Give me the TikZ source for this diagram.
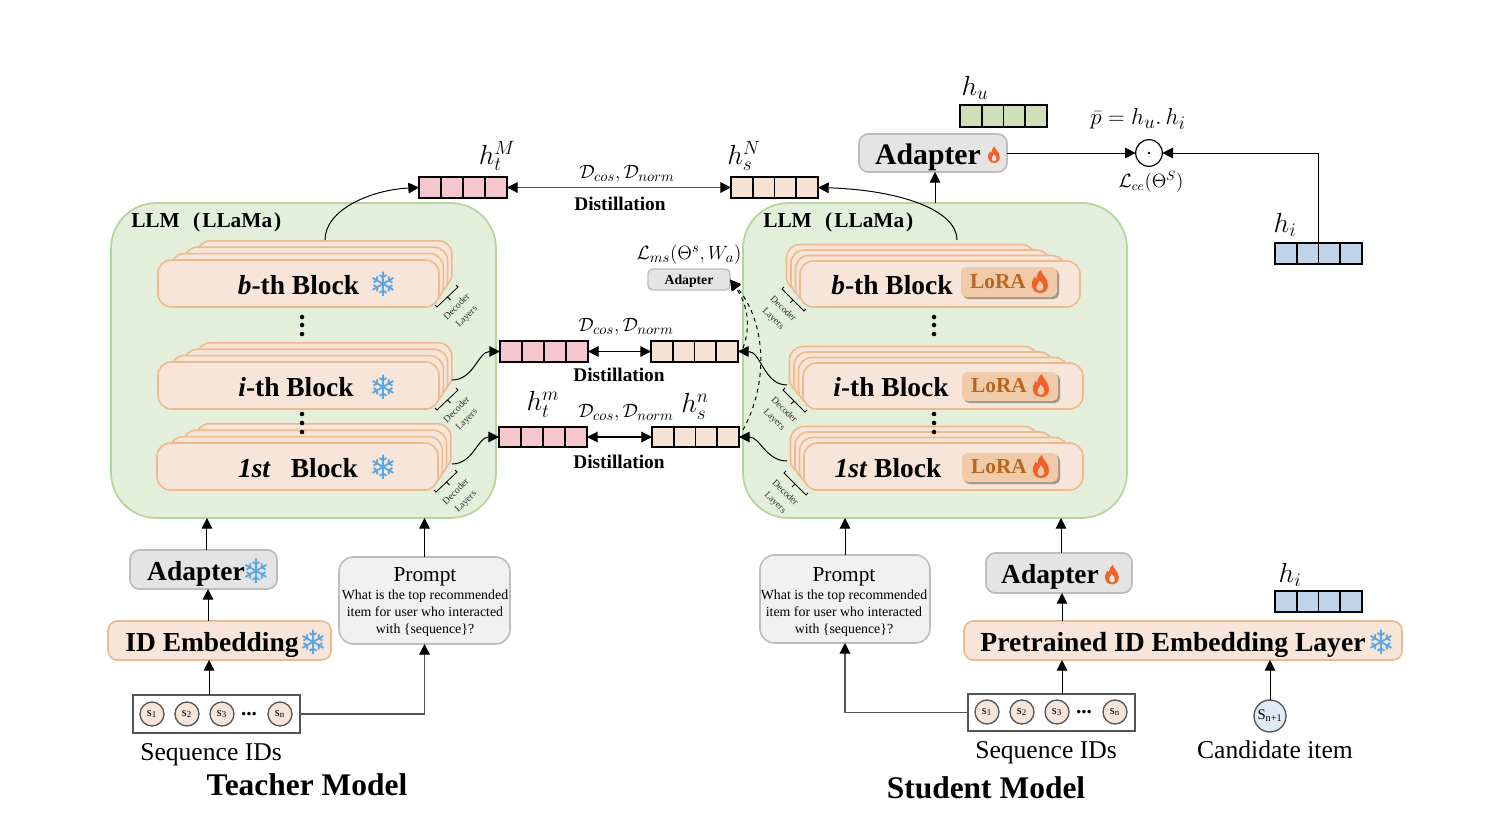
\documentclass[tikz,border=0pt]{standalone}
\usepackage{amsmath,amssymb}
\usepackage{fontspec}
\setmainfont{Liberation Serif}
\newfontfamily\flakefont{DejaVu Sans}
\usetikzlibrary{arrows.meta,calc,shadows}

\definecolor{llmgreen}{HTML}{E3EEDB}
\definecolor{llmedge}{HTML}{B4D69C}
\definecolor{peachfill}{HTML}{F6E5D8}
\definecolor{peachedge}{HTML}{EFB98E}
\definecolor{lorafill}{HTML}{EFCBAA}
\definecolor{loratext}{HTML}{B8651F}
\definecolor{flameorange}{HTML}{F0622A}
\definecolor{snowblue}{HTML}{5BA5E2}
\definecolor{grayfill}{HTML}{E4E4E4}
\definecolor{grayedge}{HTML}{BDBDBD}
\definecolor{promptfill}{HTML}{F1F1F1}
\definecolor{barpink}{HTML}{F5C6CB}
\definecolor{barpeach}{HTML}{F6E3D3}
\definecolor{bargreen}{HTML}{CDE0B8}
\definecolor{barblue}{HTML}{C0D4EA}
\definecolor{darkline}{HTML}{555555}

\tikzset{
  anybox/.style={inner sep=0pt,outer sep=0pt},
  llmbox/.style={anybox,draw=llmedge,fill=llmgreen,line width=1.3pt,rounded corners=34pt},
  blockbox/.style={anybox,draw=peachedge,fill=peachfill,line width=1.2pt,rounded corners=10pt},
  lorabox/.style={anybox,fill=lorafill,rounded corners=4pt,
    drop shadow={shadow xshift=1.5pt,shadow yshift=-1.5pt,opacity=.35,fill=black}},
  peachbox/.style={anybox,draw=peachedge,fill=peachfill,line width=1.2pt,rounded corners=7pt},
  graybox/.style={anybox,draw=grayedge,fill=grayfill,line width=1.3pt,rounded corners=7pt},
  promptbox/.style={anybox,draw=grayedge,fill=promptfill,line width=1.2pt,rounded corners=11pt},
  seqbox/.style={anybox,draw=darkline,fill=white,line width=1.3pt},
  barbox/.style={anybox,draw=black,line width=1.4pt},
  barline/.style={black,line width=1.2pt},
  seqitem/.style={circle,anybox,draw=darkline,fill=peachfill,line width=1pt,minimum size=18pt,
    font=\fontsize{9.5}{10}\selectfont},
  seqdots/.style={inner sep=0pt,font=\bfseries\fontsize{16}{16}\selectfont},
  bigtext/.style={inner sep=0pt,font=\bfseries\fontsize{20.6}{24}\selectfont},
  titletext/.style={inner sep=0pt,font=\bfseries\fontsize{23.6}{26}\selectfont},
  plaintext/.style={inner sep=0pt,font=\fontsize{19.2}{22}\selectfont},
  distiltext/.style={inner sep=0pt,font=\bfseries\fontsize{14.5}{16}\selectfont},
  llmtext/.style={inner sep=0pt,anchor=west,font=\bfseries\fontsize{16}{18}\selectfont},
  loratextstyle/.style={inner sep=0pt,text=loratext,font=\bfseries\fontsize{16}{20}\selectfont},
  mathtext/.style={inner sep=0pt,font=\fontsize{#1}{#1}\selectfont},
  flakenode/.style={inner sep=0pt,text=snowblue,font=\flakefont\fontsize{#1}{#1}\selectfont},
  arrowline/.style={-{Triangle[length=8pt,width=8pt]},black,line width=.75pt},
  grayarrow/.style={-{Triangle[length=8pt,width=8pt,black]},darkline,line width=1pt},
  twoway/.style={{Triangle[length=8pt,width=8pt,black]}-{Triangle[length=8pt,width=8pt,black]},#1,line width=.85pt},
  twoway/.default=black,
  flame/.pic={
    \fill[flameorange,even odd rule] (0,11) .. controls (-6,11) and (-9,6) .. (-8,0)
      .. controls (-7.5,-2) and (-6,-3) .. (-5.5,-5) .. controls (-4.5,-4) and (-4,-3.5) .. (-3.5,-3)
      .. controls (-3.5,-7) and (-2,-10) .. (1,-12)
      .. controls (1,-8) and (8,-4) .. (8,3) .. controls (8,8) and (5,11) .. (0,11) -- cycle
      (0,9) .. controls (-3,9) and (-4.5,6) .. (-3,3) .. controls (-2,2) and (-1,0) .. (-.5,-2)
      .. controls (2,1) and (4,3) .. (3.5,6) .. controls (3,8) and (1.5,9) .. (0,9) -- cycle;
  },
  declayerT/.pic={
    \draw[line width=.6pt] (-2,-2) -- (0,0) -- (21,-20) -- (19,-22) (10.5,-10) -- (13.5,-7);
    \node[rotate=45,align=center,inner sep=0pt,text=black!80,font=\fontsize{7.2}{10.5}\selectfont] (lbl) at (25,5) {Decoder\\Layers};
  },
  declayerS/.pic={
    \draw[line width=.6pt] (2,-2) -- (0,0) -- (22,22) -- (24,20) (11,11) -- (8,14);
    \node[rotate=-45,align=center,inner sep=0pt,text=black!80,font=\fontsize{7.2}{10.5}\selectfont] (lbl) at (-4,25) {Decoder\\Layers};
  }
}

% box given by its corners in pixels
\newcommand{\pxbox}[6]{%
  \pgfmathsetmacro\boxw{(#5-#3)*0.75}\pgfmathsetmacro\boxh{(#6-#4)*0.75}%
  \node[#2,minimum width=\boxw pt,minimum height=\boxh pt] (#1) at ({(#3+#5)/2},{(#4+#6)/2}) {};}
% four cell bar
\newcommand{\barcells}[6]{%
  \pxbox{#1}{barbox,fill=#2}{#3}{#4}{#5}{#6}%
  \foreach \cell in {1,2,3}
    \draw[barline] ($(#1.north west)!\cell/4!(#1.north east)$) -- ($(#1.south west)!\cell/4!(#1.south east)$);}
% stacked layers behind a block
\newcommand{\layerstack}[7]{%
  \foreach \k in {3,2,1}
    \draw[blockbox] ({#1+\k*#5},{#2-\k*#7}) rectangle ({#3+\k*#6},{#4-\k*#7});}
% three dots
\newcommand{\vdotsat}[4]{%
  \foreach \dy in {#2,#3,#4}
    \fill (#1,\dy) circle[radius=1.7pt];}

\begin{document}
\begin{tikzpicture}[x=0.75pt,y=-0.75pt]
  \useasboundingbox (0,0) rectangle (1486,828);

  % LLM panels
  \pxbox{llmT}{llmbox}{111}{203}{496}{518}
  \pxbox{llmS}{llmbox}{743}{203}{1127}{518}
  \node[llmtext] (llmTtext) at (131,222) {LLM\hspace{10pt}(\hspace{1.5pt}LLaMa\hspace{1.5pt})};
  \node[llmtext] (llmStext) at (763,222) {LLM\hspace{10pt}(\hspace{1.5pt}LLaMa\hspace{1.5pt})};

  % teacher blocks
  \layerstack{158}{260}{439}{307}{13}{4.3}{6.4}
  \pxbox{blockTb}{blockbox}{158}{260}{439}{307}
  \layerstack{158}{362}{439}{409}{13}{4.3}{6.4}
  \pxbox{blockTi}{blockbox}{158}{362}{439}{409}
  \layerstack{157}{443}{438}{490}{13}{4.3}{6.4}
  \pxbox{blockTa}{blockbox}{157}{443}{438}{490}
  \node[bigtext] (textTb) at (298.5,285) {\textit{b}-th Block};
  \node[bigtext] (textTi) at (296,387) {\textit{i}-th Block};
  \node[bigtext] (textTa) at (298,468) {\textit{1st}\hspace{15pt}Block};
  \node[flakenode=25] (flakeTb) at (383,284) {❄};
  \node[flakenode=25] (flakeTi) at (383,387) {❄};
  \node[flakenode=25] (flakeTa) at (383,467) {❄};
  \vdotsat{302}{317}{325}{334}
  \vdotsat{302}{414}{423}{432}
  \pic (decTb) at (437,307) {declayerT};
  \pic (decTi) at (437,410) {declayerT};
  \pic (decTa) at (436,492) {declayerT};

  % student blocks
  \layerstack{800}{261}{1080}{307}{-4.5}{-15}{5.5}
  \pxbox{blockSb}{blockbox}{800}{261}{1080}{307}
  \layerstack{803}{363}{1083}{409}{-4.5}{-15}{5.5}
  \pxbox{blockSi}{blockbox}{803}{363}{1083}{409}
  \layerstack{804}{443}{1083}{490}{-4.5}{-15}{5.5}
  \pxbox{blockSa}{blockbox}{804}{443}{1083}{490}
  \node[bigtext] (textSb) at (892,285) {\textit{b}-th Block};
  \node[bigtext] (textSi) at (891,387) {\textit{i}-th Block};
  \node[bigtext] (textSa) at (888,468) {\textit{1st} Block};
  \pxbox{loraSb}{lorabox}{961}{267}{1057}{297}
  \pxbox{loraSi}{lorabox}{962}{372}{1058}{401}
  \pxbox{loraSa}{lorabox}{962}{453}{1058}{482}
  \node[loratextstyle] (loraTextb) at (998,282) {LoRA};
  \node[loratextstyle] (loraTexti) at (999,386) {LoRA};
  \node[loratextstyle] (loraTexta) at (999,467) {LoRA};
  \pic at (1040,282) {flame};
  \pic at (1041,386) {flame};
  \pic at (1041,467) {flame};
  \vdotsat{934}{317}{325}{334}
  \vdotsat{934}{414}{423}{432}
  \pic (decSb) at (782,289) {declayerS};
  \pic (decSi) at (783,390) {declayerS};
  \pic (decSa) at (784,473) {declayerS};

  % feature bars
  \barcells{barTtop}{barpink}{419}{177}{507}{198}
  \barcells{barStop}{barpeach}{731}{177}{818}{198}
  \barcells{barTmid}{barpink}{500}{341}{588}{362}
  \barcells{barSmid}{barpeach}{651}{341}{738}{362}
  \barcells{barTlow}{barpink}{499}{427}{587}{447}
  \barcells{barSlow}{barpeach}{652}{427}{739}{447}
  \barcells{barHu}{bargreen}{960}{105}{1047}{127}
  \barcells{barHiTop}{barblue}{1275}{243}{1362}{264}
  \barcells{barHiLow}{barblue}{1275}{591}{1362}{612}

  \node[mathtext=21] (labelTM) at (497,156) {$h_t^M$};
  \node[mathtext=21] (labelSN) at (744,156) {$h_s^N$};
  \node[mathtext=21] (labelTm) at (543,404) {$h_t^m$};
  \node[mathtext=21] (labelSn) at (695,406) {$h_s^n$};
  \node[mathtext=21] (labelHu) at (975,88) {$h_u$};
  \node[mathtext=21] (labelHiTop) at (1285,225) {$h_i$};
  \node[mathtext=21] (labelHiLow) at (1290,575) {$h_i$};

  \node[mathtext=15.5] (distTop) at (627,174) {$\mathcal{D}_{cos},\mathcal{D}_{norm}$};
  \node[mathtext=15.5] (distMid) at (626,327) {$\mathcal{D}_{cos},\mathcal{D}_{norm}$};
  \node[mathtext=15.5] (distLow) at (626,413) {$\mathcal{D}_{cos},\mathcal{D}_{norm}$};
  \node[distiltext] (distilTop) at (620,204) {Distillation};
  \node[distiltext] (distilMid) at (619,375) {Distillation};
  \node[distiltext] (distilLow) at (619,462) {Distillation};

  % small adapter
  \pxbox{adapterMs}{graybox,rounded corners=3.5pt,line width=1pt}{648}{269}{730}{290}
  \node[inner sep=0pt,font=\bfseries\fontsize{10.3}{12}\selectfont] (adapterMsText) at (689,281) {Adapter};
  \node[mathtext=15] (lossMs) at (689,255) {$\mathcal{L}_{ms}(\Theta^{s},W_{a})$};

  % top adapter and dot product
  \pxbox{adapterTop}{graybox}{859}{134}{1007}{172}
  \node[inner sep=0pt,font=\bfseries\fontsize{22.3}{26}\selectfont] (adapterTopText) at (928,157) {Adapter};
  \pic[scale=.72] at (994,155) {flame};
  \node[circle,anybox,draw=black,line width=.9pt,fill=white,minimum size=20pt] (dotprod) at (1149,153) {};
  \fill (dotprod.center) circle[radius=1.1pt];
  \node[mathtext=19] (labelP) at (1138,119) {$\bar{p}=h_u.\,h_i$};
  \node[mathtext=14] (lossCe) at (1151,182) {$\mathcal{L}_{ce}(\Theta^{S})$};

  % teacher inputs
  \pxbox{adapterT}{graybox}{130}{550}{277}{589}
  \node[bigtext] (adapterTText) at (196,574) {Adapter};
  \node[flakenode=25] (flakeAdT) at (256,571) {❄};
  \pxbox{idEmbT}{peachbox}{108}{621}{331}{660}
  \node[bigtext] (idEmbTText) at (212,645) {ID Embedding};
  \node[flakenode=25] (flakeIdT) at (313,642) {❄};
  \pxbox{promptT}{promptbox}{339}{557}{510}{644}
  \node[inner sep=0pt,font=\fontsize{16}{18}\selectfont] (promptTHead) at (425,577) {Prompt};
  \node[inner sep=0pt,align=center,font=\fontsize{10.4}{12.5}\selectfont] (promptTBody) at (425,613)
    {What is the top recommended\\item for user who interacted\\with \{sequence\}?};
  \pxbox{seqT}{seqbox}{133}{695}{300}{733}
  \node[seqitem] (sT1) at (152,714) {s\textsubscript{1}};
  \node[seqitem] (sT2) at (187,714) {s\textsubscript{2}};
  \node[seqitem] (sT3) at (222,714) {s\textsubscript{3}};
  \node[seqdots] (sTdots) at (249,714) {...};
  \node[seqitem] (sTn) at (280,714) {s\textsubscript{n}};
  \node[plaintext] (seqTText) at (211,755) {Sequence IDs};
  \node[titletext] (teacherTitle) at (307,785) {Teacher Model};

  % student inputs
  \pxbox{adapterS}{graybox}{986}{553}{1132}{593}
  \node[bigtext] (adapterSText) at (1050,577) {Adapter};
  \pic[scale=.85] at (1112,575) {flame};
  \pxbox{idEmbS}{peachbox}{964}{621}{1402}{660}
  \node[inner sep=0pt,font=\bfseries\fontsize{20.7}{24}\selectfont] (idEmbSText) at (1173,645) {Pretrained ID Embedding Layer};
  \node[flakenode=25] (flakeIdS) at (1381,642) {❄};
  \pxbox{promptS}{promptbox}{760}{555}{930}{643}
  \node[inner sep=0pt,font=\fontsize{16}{18}\selectfont] (promptSHead) at (844,577) {Prompt};
  \node[inner sep=0pt,align=center,font=\fontsize{10.4}{12.5}\selectfont] (promptSBody) at (844,613)
    {What is the top recommended\\item for user who interacted\\with \{sequence\}?};
  \pxbox{seqS}{seqbox}{968}{694}{1135}{731}
  \node[seqitem] (sS1) at (987,712) {s\textsubscript{1}};
  \node[seqitem] (sS2) at (1022,712) {s\textsubscript{2}};
  \node[seqitem] (sS3) at (1057,712) {s\textsubscript{3}};
  \node[seqdots] (sSdots) at (1084,712) {...};
  \node[seqitem] (sSn) at (1115,712) {s\textsubscript{n}};
  \node[circle,anybox,draw=darkline,fill=barblue!50,line width=1pt,minimum size=24pt,
    font=\fontsize{11}{12}\selectfont] (cand) at (1270,716) {S\textsubscript{n+1}};
  \node[plaintext] (seqSText) at (1046,753) {Sequence IDs};
  \node[plaintext] (candText) at (1275,750) {Candidate item};
  \node[titletext] (studentTitle) at (986,788) {Student Model};

  % connectors, teacher side
  \draw[arrowline] ([xshift=-5.6pt]seqT.north) -- ([xshift=-5.6pt]seqT.north |- idEmbT.south);
  \draw[arrowline] ([xshift=-8.6pt]idEmbT.north) -- ([xshift=-8.6pt]idEmbT.north |- adapterT.south);
  \draw[arrowline] ([xshift=2.6pt]adapterT.north) -- ([xshift=2.6pt]adapterT.north |- llmT.south);
  \draw[arrowline] (promptT.north) -- (promptT.north |- llmT.south);
  \draw[grayarrow] (seqT.east) -| (promptT.south);

  % connectors, student side
  \draw[arrowline] ([xshift=7.9pt]seqS.north) -- ([xshift=7.9pt]seqS.north |- idEmbS.south);
  \draw[arrowline] ([xshift=-90.75pt]idEmbS.north) -- ([xshift=-90.75pt]idEmbS.north |- adapterS.south);
  \draw[arrowline] ([xshift=1.5pt]adapterS.north) -- ([xshift=1.5pt]adapterS.north |- llmS.south);
  \draw[arrowline] (promptS.north) -- (promptS.north |- llmS.south);
  \draw[grayarrow] (seqS.west) -| (promptS.south);
  \draw[arrowline] (cand.north) -- (cand.north |- idEmbS.south);
  \draw[arrowline] (llmS.north -| 935,0) -- (adapterTop.south -| 935,0);
  \draw[arrowline] (adapterTop.east) -- (dotprod.west);
  \draw[arrowline] (barHiTop.north -| 1318,0) |- (dotprod.east);

  % connectors, distillation
  \draw[twoway=darkline] (barTtop.east) -- (barStop.west);
  \draw[twoway] (barTmid.east) -- (barSmid.west);
  \draw[twoway] (barTlow.east) -- (barSlow.west);

  \coordinate (outTb) at (325,240);
  \coordinate (outTi) at (452,380);
  \coordinate (outTa) at (452,464);
  \coordinate (outSb) at (957,240);
  \coordinate (outSi) at (787,385);
  \coordinate (outSa) at (787,461);
  \draw[arrowline] (outTb) .. controls (325,210) and (370,190) .. (barTtop.west);
  \draw[arrowline] (outSb) .. controls (957,210) and (900,190) .. (barStop.east);
  \draw[arrowline] (outTi) to[out=0,in=180] (barTmid.west);
  \draw[arrowline] (outTa) to[out=0,in=180] (barTlow.west);
  \draw[arrowline] (outSi) to[out=180,in=0] (barSmid.east);
  \draw[arrowline] (outSa) to[out=180,in=0] (barSlow.east);

  \coordinate (dashMid) at (743,348);
  \coordinate (dashLow) at (743,430);
  \draw[arrowline,dashed] (dashMid) to[out=70,in=-55] (adapterMs.east);
  \draw[arrowline,dashed] (dashLow) .. controls (770,380) and (765,320) .. (adapterMs.east);
\end{tikzpicture}
\end{document}
